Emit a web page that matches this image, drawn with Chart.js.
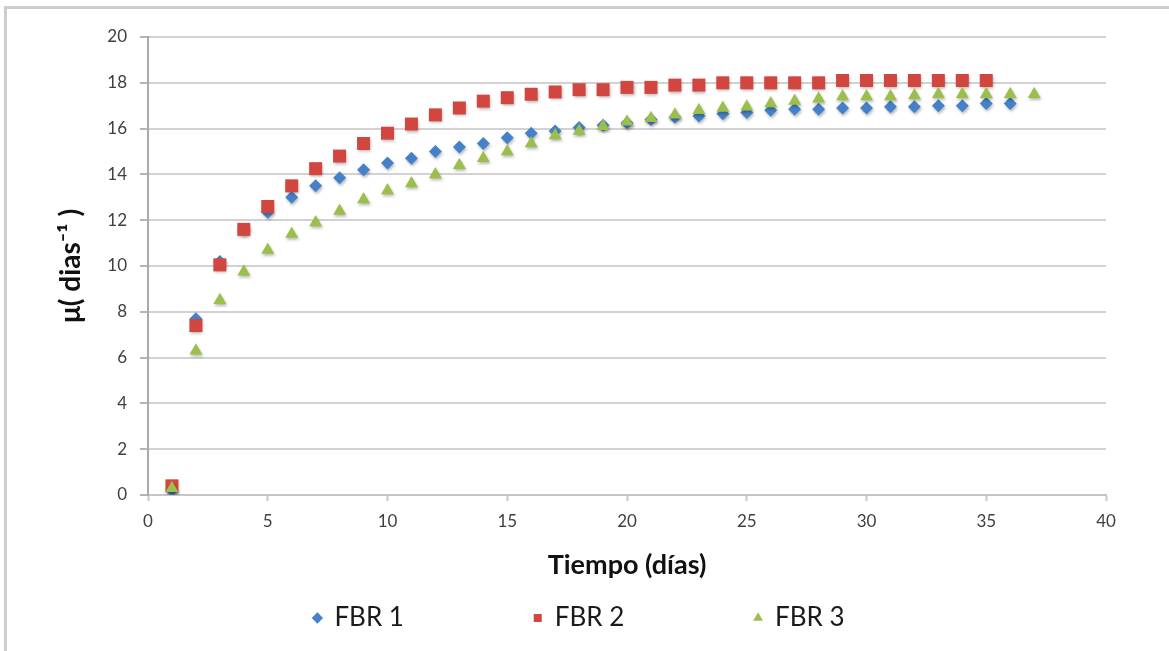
<!DOCTYPE html>
<html>
<head>
<meta charset="utf-8">
<script src="https://cdn.jsdelivr.net/npm/chart.js@4.4.1/dist/chart.umd.min.js"></script>
<style>
  html, body { margin: 0; padding: 0; background: #fff; }
  #wrap { position: relative; width: 1169px; height: 651px; }
  #frame {
    position: absolute; left: 4px; top: 6px; right: 0; bottom: 0;
    border-left: 3px solid #cdcdcd; border-top: 3px solid #cdcdcd;
    pointer-events: none;
  }
</style>
</head>
<body>
<div id="wrap">
  <canvas id="chart" width="1169" height="651"></canvas>
  <div id="frame"></div>
</div>
<script>
const days = [1, 2, 3, 4, 5, 6, 7, 8, 9, 10, 11, 12, 13, 14, 15, 16, 17, 18, 19, 20,
  21, 22, 23, 24, 25, 26, 27, 28, 29, 30, 31, 32, 33, 34, 35, 36, 37];

const fbr1 = [0.2, 7.7, 10.2, 11.6, 12.35, 13.0, 13.5, 13.85, 14.2, 14.5, 14.7, 15.0,
  15.2, 15.35, 15.6, 15.8, 15.9, 16.05, 16.15, 16.25, 16.4, 16.5, 16.55, 16.65, 16.7,
  16.8, 16.85, 16.85, 16.9, 16.9, 16.95, 16.95, 17.0, 17.0, 17.1, 17.1];
const fbr2 = [0.4, 7.4, 10.05, 11.6, 12.6, 13.5, 14.25, 14.8, 15.35, 15.8, 16.2, 16.6,
  16.9, 17.2, 17.35, 17.5, 17.6, 17.7, 17.7, 17.8, 17.8, 17.9, 17.9, 18.0, 18.0, 18.0,
  18.0, 18.0, 18.1, 18.1, 18.1, 18.1, 18.1, 18.1, 18.1];
const fbr3 = [0.3, 6.3, 8.5, 9.75, 10.7, 11.4, 11.9, 12.4, 12.9, 13.3, 13.6, 14.0, 14.4,
  14.7, 15.0, 15.35, 15.7, 15.9, 16.1, 16.3, 16.45, 16.6, 16.8, 16.9, 16.95, 17.1, 17.2,
  17.3, 17.4, 17.4, 17.4, 17.45, 17.5, 17.5, 17.5, 17.5, 17.5];

const seriesNames = ['FBR 1', 'FBR 2', 'FBR 3'];
const yTicks = [0, 2, 4, 6, 8, 10, 12, 14, 16, 18, 20];
const xTicks = [0, 5, 10, 15, 20, 25, 30, 35, 40];

const toPoints = (values) => values.map((v, i) => ({ x: days[i], y: v }));

const FONT = 'Lato, "Open Sans", sans-serif';
const legendFont = { family: FONT, size: 26 };

// widen the first two legend entries so the three items sit far apart like the original
const measureCtx = document.createElement('canvas').getContext('2d');
measureCtx.font = `${legendFont.size}px ${FONT}`;
const legendTextWidths = [188, 186];
function padLabel(text, target) {
  if (!target) return text;
  let out = text;
  while (measureCtx.measureText(out).width < target) out += ' ';
  return out;
}

const shadowPlugin = {
  id: 'markerShadow',
  beforeDatasetsDraw(chart) {
    const ctx = chart.ctx;
    ctx.save();
    ctx.shadowColor = 'rgba(0, 0, 0, 0.28)';
    ctx.shadowBlur = 3;
    ctx.shadowOffsetX = 1;
    ctx.shadowOffsetY = 2;
  },
  afterDatasetsDraw(chart) {
    chart.ctx.restore();
  },
};

const LEFT_PAD = 52;

new Chart(document.getElementById('chart'), {
  type: 'scatter',
  data: {
    datasets: [
      {
        label: seriesNames[0],
        data: toPoints(fbr1),
        pointStyle: 'rectRot',
        pointRadius: 6.5,
        backgroundColor: '#4581c8',
        borderColor: '#4581c8',
        borderWidth: 0,
        order: 3,
      },
      {
        label: seriesNames[1],
        data: toPoints(fbr2),
        pointStyle: 'rect',
        pointRadius: 9.2,
        backgroundColor: '#d1473f',
        borderColor: '#d1473f',
        borderWidth: 0,
        order: 2,
      },
      {
        label: seriesNames[2],
        data: toPoints(fbr3),
        pointStyle: 'triangle',
        pointRadius: 7.5,
        backgroundColor: '#9cbf4b',
        borderColor: '#9cbf4b',
        borderWidth: 0,
        order: 1,
      },
    ],
  },
  options: {
    responsive: false,
    animation: false,
    layout: {
      padding: { left: LEFT_PAD, right: 63, top: 37, bottom: 10 },
    },
    plugins: {
      tooltip: { enabled: false },
      legend: {
        position: 'bottom',
        labels: {
          usePointStyle: true,
          boxWidth: 8,
          boxHeight: 8,
          padding: 10,
          color: '#1a1a1a',
          font: legendFont,
          sort: (a, b) => a.datasetIndex - b.datasetIndex,
          generateLabels(chart) {
            const items = Chart.defaults.plugins.legend.labels.generateLabels(chart);
            items.forEach((item) => {
              item.text = padLabel(item.text, legendTextWidths[item.datasetIndex]);
            });
            return items;
          },
        },
      },
    },
    scales: {
      x: {
        type: 'linear',
        min: 0,
        max: 40,
        afterBuildTicks: (scale) => {
          scale.ticks = xTicks.map((v) => ({ value: v }));
        },
        afterFit: (scale) => {
          scale.height = 100;
        },
        border: { color: '#c6c6c6', width: 2 },
        grid: {
          drawOnChartArea: false,
          drawTicks: true,
          tickLength: 6,
          tickColor: '#c6c6c6',
          tickWidth: 2,
        },
        ticks: {
          color: '#404040',
          padding: 10,
          font: { family: FONT, size: 17 },
          maxRotation: 0,
        },
        title: {
          display: true,
          text: 'Tiempo (días)',
          color: '#111',
          font: { family: FONT, size: 27, weight: 'bold' },
          padding: { top: 0, bottom: 13.8 },
        },
      },
      y: {
        type: 'linear',
        min: 0,
        max: 20,
        afterBuildTicks: (scale) => {
          scale.ticks = yTicks.map((v) => ({ value: v }));
        },
        afterFit: (scale) => {
          scale.width = 148 - LEFT_PAD;
        },
        border: { color: '#a9a9a9', width: 2 },
        grid: {
          color: '#d2d2d2',
          lineWidth: 2,
          tickLength: 8,
          tickColor: '#b5b5b5',
        },
        ticks: {
          color: '#404040',
          padding: 13,
          font: { family: FONT, size: 17 },
        },
        title: {
          display: true,
          text: 'μ( dias⁻¹ )',
          color: '#111',
          font: { family: FONT, size: 28, weight: 'bold' },
          padding: { top: 2.2, bottom: 0 },
        },
      },
    },
  },
  plugins: [shadowPlugin],
});
</script>
</body>
</html>
